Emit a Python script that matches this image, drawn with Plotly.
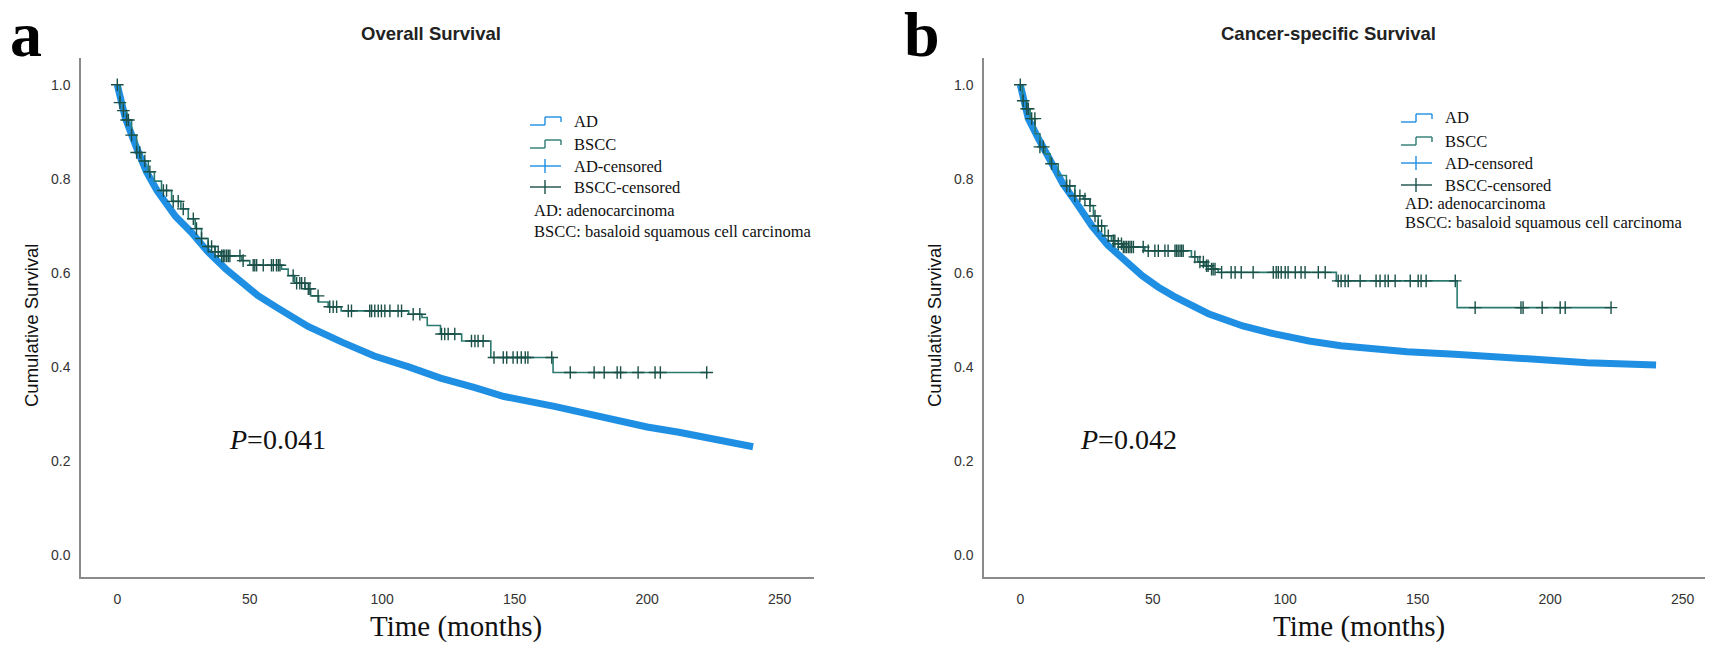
import numpy as np
import plotly.graph_objects as go

W, H = 1713, 646

# ---- data (months, cumulative survival) ----
# Overall survival, AD (smooth, heavily censored curve)
os_ad_t = [0, 3, 7, 11, 15, 22, 28, 34, 41, 47, 53, 60, 72, 85, 97, 110, 122, 135, 146,
           165, 180, 190, 200, 212, 224, 232, 240]
os_ad_s = [1.0, 0.93, 0.87, 0.815, 0.775, 0.72, 0.686, 0.646, 0.608, 0.58, 0.552, 0.527,
           0.486, 0.452, 0.423, 0.40, 0.376, 0.356, 0.337, 0.316, 0.297, 0.284, 0.272,
           0.261, 0.249, 0.238, 0.23]

# Overall survival, BSCC step function
os_bscc_t = [0, 1.0, 2.3, 3.5, 5.4, 7.3, 9.0, 11.7, 14.0, 16.7, 20.5, 24.0, 26.8, 29.4,
             31.8, 34.3, 36.9, 39.0, 47.0, 50.0, 62.0, 64.5, 67.0, 71.0, 73.0, 76.0, 79.6,
             84.5, 110.0, 115.0, 117.0, 122.0, 130.0, 141.0, 164.5, 223]
os_bscc_s = [1.0, 0.962, 0.945, 0.925, 0.893, 0.856, 0.838, 0.815, 0.795, 0.775, 0.752,
             0.736, 0.715, 0.694, 0.673, 0.656, 0.645, 0.636, 0.626, 0.616, 0.608, 0.594,
             0.578, 0.566, 0.551, 0.538, 0.528, 0.519, 0.512, 0.505, 0.488, 0.470, 0.455,
             0.420, 0.388, 0.388]
os_bscc_cens = [0, 1.0, 2.3, 3.5, 4.2, 5.4, 7.3, 8.5, 10.4, 12.3, 17.4, 18.6, 21.1, 23.0,
                24.9, 28.7, 29.9, 31.8, 34.3, 35.6, 36.9, 38.1, 39.4, 40.0, 40.6, 41.3,
                41.9, 42.5, 46.3, 47.5, 51.3, 51.9, 52.6, 55.1, 58.2, 58.9, 60.1, 60.8,
                61.4, 66.4, 67.7, 68.9, 69.6, 70.8, 72.1, 72.7, 75.8, 80.2, 81.5, 82.8,
                87.2, 88.4, 95.3, 96.0, 97.2, 98.5, 99.7, 101.0, 102.9, 106.0, 107.3,
                111.7, 114.2, 122.4, 123.6, 124.9, 127.4, 133.7, 135.0, 136.2, 138.1,
                142.2, 145.7, 147.0, 149.4, 151.0, 152.5, 154.0, 155.0, 164.0, 171.0,
                180.0, 183.8, 188.7, 190.0, 196.6, 203.0, 205.0, 222.5]

# Cancer-specific survival, AD
css_ad_t = [0, 3, 7, 11, 16, 21, 27, 33, 40, 46, 52, 58, 71, 84, 96, 109, 121, 134, 146,
            164, 189, 214, 240]
css_ad_s = [1.0, 0.928, 0.884, 0.84, 0.79, 0.75, 0.70, 0.659, 0.622, 0.594, 0.570, 0.550,
            0.513, 0.487, 0.470, 0.455, 0.445, 0.438, 0.432, 0.427, 0.417, 0.409, 0.404]

# Cancer-specific survival, BSCC step function
css_bscc_t = [0, 0.8, 2.3, 3.7, 5.6, 7.4, 9.3, 11.2, 14.3, 17.4, 20.6, 23.8, 26.3, 27.6,
              29.4, 31.9, 34.4, 37.0, 38.5, 47.0, 64.6, 67.0, 69.7, 72.2, 74.7, 119.3,
              164.9, 223]
css_bscc_s = [1.0, 0.966, 0.949, 0.928, 0.896, 0.868, 0.853, 0.832, 0.807, 0.785, 0.764,
              0.757, 0.743, 0.721, 0.70, 0.679, 0.668, 0.662, 0.655, 0.647, 0.634, 0.623,
              0.615, 0.608, 0.601, 0.583, 0.526, 0.526]
css_bscc_cens = [0, 1.1, 2.4, 3.0, 4.3, 5.5, 7.4, 8.7, 11.8, 17.5, 18.7, 20.6, 22.5, 24.4,
                 26.3, 28.2, 29.4, 30.7, 33.2, 35.1, 35.7, 37.0, 38.2, 38.9, 39.5, 40.1,
                 40.8, 41.4, 42.0, 42.7, 46.4, 48.3, 50.8, 52.1, 54.6, 55.8, 58.4, 59.0,
                 59.6, 60.3, 60.9, 61.5, 65.9, 67.8, 69.1, 70.3, 70.9, 72.2, 72.8, 73.5,
                 76.0, 79.6, 81.1, 83.4, 87.9, 95.5, 96.6, 97.4, 98.5, 100.0, 101.1, 103.8,
                 106.0, 107.5, 112.5, 115.1, 120.0, 121.1, 122.6, 123.8, 128.3, 134.3,
                 135.8, 137.7, 138.9, 141.5, 147.2, 150.2, 151.3, 153.2, 164.2, 171.7,
                 189.0, 189.8, 197.0, 203.8, 205.7, 223.0]

panel_titles = ["Overall Survival", "Cancer-specific Survival"]
p_values = ["0.041", "0.042"]
legend_names = ["AD", "BSCC", "AD-censored", "BSCC-censored"]
legend_notes = ["AD: adenocarcinoma", "BSCC: basaloid squamous cell carcinoma"]
x_ticks = [0, 50, 100, 150, 200, 250]
y_ticks = [0.0, 0.2, 0.4, 0.6, 0.8, 1.0]

AD_COL = "#1f8fe3"
BSCC_COL = "#2b7a70"
CENS_COL = "#1b5049"
SERIF = "Liberation Serif, Times New Roman, serif"
SANS = "Arial, Liberation Sans, sans-serif"


def step_at(t, s, tc):
    idx = np.searchsorted(np.array(t), np.array(tc), side="right") - 1
    return np.array(s)[idx]


def px(x):
    return x / W


def py(y):
    return (H - y) / H


fig = go.Figure()

panels = [
    dict(ad_t=os_ad_t, ad_s=os_ad_s, b_t=os_bscc_t, b_s=os_bscc_s, cens=os_bscc_cens,
         xa="x", ya="y"),
    dict(ad_t=css_ad_t, ad_s=css_ad_s, b_t=css_bscc_t, b_s=css_bscc_s, cens=css_bscc_cens,
         xa="x2", ya="y2"),
]

for p in panels:
    fig.add_trace(go.Scatter(x=p["ad_t"], y=p["ad_s"], mode="lines", name="AD",
                             line=dict(color=AD_COL, width=7), showlegend=False,
                             xaxis=p["xa"], yaxis=p["ya"]))
    fig.add_trace(go.Scatter(x=p["b_t"], y=p["b_s"], mode="lines", line_shape="hv",
                             name="BSCC", line=dict(color=BSCC_COL, width=1.6),
                             showlegend=False, xaxis=p["xa"], yaxis=p["ya"]))
    fig.add_trace(go.Scatter(x=p["cens"], y=step_at(p["b_t"], p["b_s"], p["cens"]),
                             mode="markers", name="BSCC-censored",
                             marker=dict(symbol="cross-thin", size=9,
                                         line=dict(color=CENS_COL, width=1.4)),
                             showlegend=False, xaxis=p["xa"], yaxis=p["ya"]))

xax = dict(range=[-13.7, 263], tickvals=x_ticks, showline=True, linecolor="#8a8a8a",
           linewidth=1.5, showgrid=False, zeroline=False, ticks="",
           tickfont=dict(family=SANS, size=14, color="#333"), ticklabelstandoff=8)
yax = dict(range=[-0.047, 1.057], tickvals=y_ticks, tickformat=".1f", showline=True,
           linecolor="#8a8a8a", linewidth=1.5, showgrid=False, zeroline=False, ticks="",
           tickfont=dict(family=SANS, size=14, color="#333"), ticklabelstandoff=6)

fig.update_layout(
    width=W, height=H, margin=dict(l=0, r=0, t=0, b=0),
    paper_bgcolor="white", plot_bgcolor="white", showlegend=False,
    xaxis=dict(xax, domain=[px(73), px(806)], anchor="y"),
    yaxis=dict(yax, domain=[py(569), py(50)], anchor="x"),
    xaxis2=dict(xax, domain=[px(976), px(1709)], anchor="y2"),
    yaxis2=dict(yax, domain=[py(569), py(50)], anchor="x2"),
)

ann = []
shapes = []


def text(t, x, y, size, family, color="#111", xanchor="center", angle=0):
    ann.append(dict(text=t, x=px(x), y=py(y), xref="paper", yref="paper",
                    showarrow=False, xanchor=xanchor, yanchor="middle", textangle=angle,
                    font=dict(family=family, size=size, color=color)))


def seg(x0, y0, x1, y1, color, width=1.5):
    shapes.append(dict(type="line", xref="paper", yref="paper", x0=px(x0), y0=py(y0),
                       x1=px(x1), y1=py(y1), line=dict(color=color, width=width)))


# panel letters
text("<b>a</b>", 0, 26, 64, SERIF, "black", xanchor="left")
text("<b>b</b>", 894, 26, 64, SERIF, "black", xanchor="left")

title_x = [423, 1320]
ylab_x = [23, 926]
xlab_x = [448, 1351]
p_x = [269, 1120]
for i in range(2):
    text("<b>" + panel_titles[i] + "</b>", title_x[i], 25, 18.5, SANS, "#222")
    text("Cumulative Survival", ylab_x[i], 318, 18.5, SANS, "#111", angle=-90)
    text("Time (months)", xlab_x[i], 618, 29, SERIF, "#111")
    text("<i>P</i>=" + p_values[i], p_x[i], 432, 28, SERIF, "#111")

# hand-drawn legends (SPSS style step glyphs)
leg_glyph_x = [522, 1393]
leg_text_x = [564, 1435]
leg_rows = [[113, 136, 158, 179], [110, 133, 155, 177]]
note_x = [524, 1395]
note_rows = [[203, 223], [195, 215]]
glyph_cols = [AD_COL, BSCC_COL, AD_COL, CENS_COL]
for i in range(2):
    gx = leg_glyph_x[i]
    for k, r in enumerate(leg_rows[i]):
        c = glyph_cols[k]
        if k < 2:
            seg(gx, r + 4, gx + 15, r + 4, c, 1.4)
            seg(gx + 15, r + 4, gx + 15, r - 4, c, 1.4)
            seg(gx + 15, r - 4, gx + 31, r - 4, c, 1.4)
            seg(gx + 31, r - 4, gx + 31, r + 1, c, 1.4)
        else:
            seg(gx, r, gx + 31, r, c, 1.4)
            seg(gx + 15, r - 7, gx + 15, r + 7, c, 1.4)
        text(legend_names[k], leg_text_x[i], r, 16.5, SERIF, "#111", xanchor="left")
    for k, r in enumerate(note_rows[i]):
        text(legend_notes[k], note_x[i], r, 16.5, SERIF, "#111", xanchor="left")

fig.update_layout(annotations=ann, shapes=shapes)

fig.write_html("out.html")
